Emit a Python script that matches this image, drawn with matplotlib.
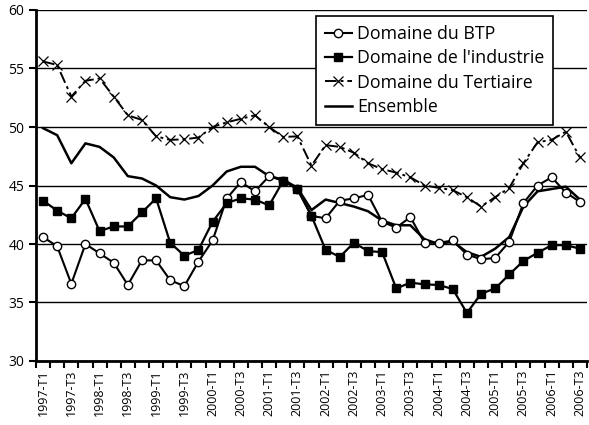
import matplotlib
matplotlib.use("Agg")
import matplotlib.pyplot as plt
import numpy as np

plt.rcParams['font.family'] = ['Open Sans', 'DejaVu Sans']

years = list(range(1997, 2007))
periods = [f"{y}-T{q}" for y in years for q in range(1, 5)][:39]
tick_labels = periods[::2]

btp = [40.6, 39.8, 36.6, 40.0, 39.2, 38.4, 36.5, 38.6, 38.6, 36.9, 36.4, 38.5,
       40.3, 43.9, 45.3, 44.5, 45.8, 45.4, 44.7, 42.4, 42.2, 43.7, 43.9, 44.2,
       41.9, 41.4, 42.3, 40.1, 40.1, 40.3, 39.1, 38.7, 38.8, 40.2, 43.5, 45.0,
       45.7, 44.4, 43.6]
industrie = [43.7, 42.85, 42.2, 43.85, 41.1, 41.5, 41.5, 42.7, 43.9, 40.1, 39.0, 39.5,
             41.9, 43.5, 43.9, 43.8, 43.3, 45.4, 44.7, 42.4, 39.5, 38.9, 40.1, 39.4,
             39.3, 36.2, 36.7, 36.55, 36.5, 36.15, 34.1, 35.75, 36.2, 37.4, 38.55, 39.25,
             39.9, 39.9, 39.6]
tertiaire = [55.6, 55.3, 52.6, 53.95, 54.15, 52.6, 51.0, 50.6, 49.2, 48.9, 48.95, 49.1,
             50.0, 50.4, 50.7, 51.0, 50.0, 49.15, 49.2, 46.7, 48.45, 48.3, 47.8, 46.9,
             46.4, 46.1, 45.7, 45.0, 44.8, 44.6, 44.0, 43.2, 44.0, 44.8, 46.9, 48.7,
             48.9, 49.6, 47.4]
ensemble = [49.9, 49.3, 46.9, 48.6, 48.3, 47.4, 45.8, 45.6, 45.0, 44.0, 43.8, 44.1,
            45.0, 46.2, 46.6, 46.6, 45.8, 45.5, 44.8, 42.9, 43.8, 43.5, 43.2, 42.8,
            42.0, 41.6, 41.6, 40.4, 40.0, 40.2, 39.3, 38.9, 39.6, 40.6, 43.2, 44.5,
            44.7, 44.9, 43.8]

fig = plt.figure(figsize=(5.89, 4.25), dpi=100)
ax = fig.add_axes([36/589, 1-361/425, (587-36)/589, (361-10)/425])

x = np.arange(len(periods))
ax.plot(x, btp, color='black', lw=1.5, marker='o', ms=6, mfc='white', mec='black', mew=1,
        label='Domaine du BTP', zorder=4)
ax.plot(x, industrie, color='black', lw=1.6, marker='s', ms=6, mfc='black', mec='black',
        label="Domaine de l'industrie", zorder=5)
ax.plot(x, tertiaire, color='black', lw=1.4, marker='x', ms=6.5, mew=0.9,
        linestyle=(0, (6, 2, 1.5, 2)), label='Domaine du Tertiaire', zorder=3)
ax.plot(x, ensemble, color='black', lw=1.8, label='Ensemble', zorder=3)

ax.set_xlim(-0.5, len(periods) - 0.5)
ax.set_ylim(30, 60)
ax.set_yticks([30, 35, 40, 45, 50, 55, 60])
ax.yaxis.grid(True, color='black', lw=1)
ax.set_axisbelow(True)

ax.set_xticks(x[::2])
ax.set_xticklabels(tick_labels, rotation=90, fontsize=9)
ax.set_xticks(np.arange(-0.5, len(periods)), minor=True)
ax.tick_params(axis='x', which='major', length=0, pad=6)
ax.tick_params(axis='x', which='minor', length=5, width=1.5, direction='out')
ax.tick_params(axis='y', length=5, width=1.5, direction='out', labelsize=10)

for s in ['top', 'right']:
    ax.spines[s].set_visible(False)
ax.spines['left'].set_linewidth(2)
ax.spines['bottom'].set_linewidth(2)

leg = ax.legend(loc='upper left', bbox_to_anchor=((316-36)/551, 1 - 6/351), fontsize=12.8,
                frameon=True, fancybox=False, edgecolor='black', framealpha=1,
                borderaxespad=0, handlelength=1.5, handletextpad=0.3, borderpad=0.5,
                labelspacing=0.36)
leg.get_frame().set_linewidth(1.2)

fig.savefig('out.png', dpi=100)
